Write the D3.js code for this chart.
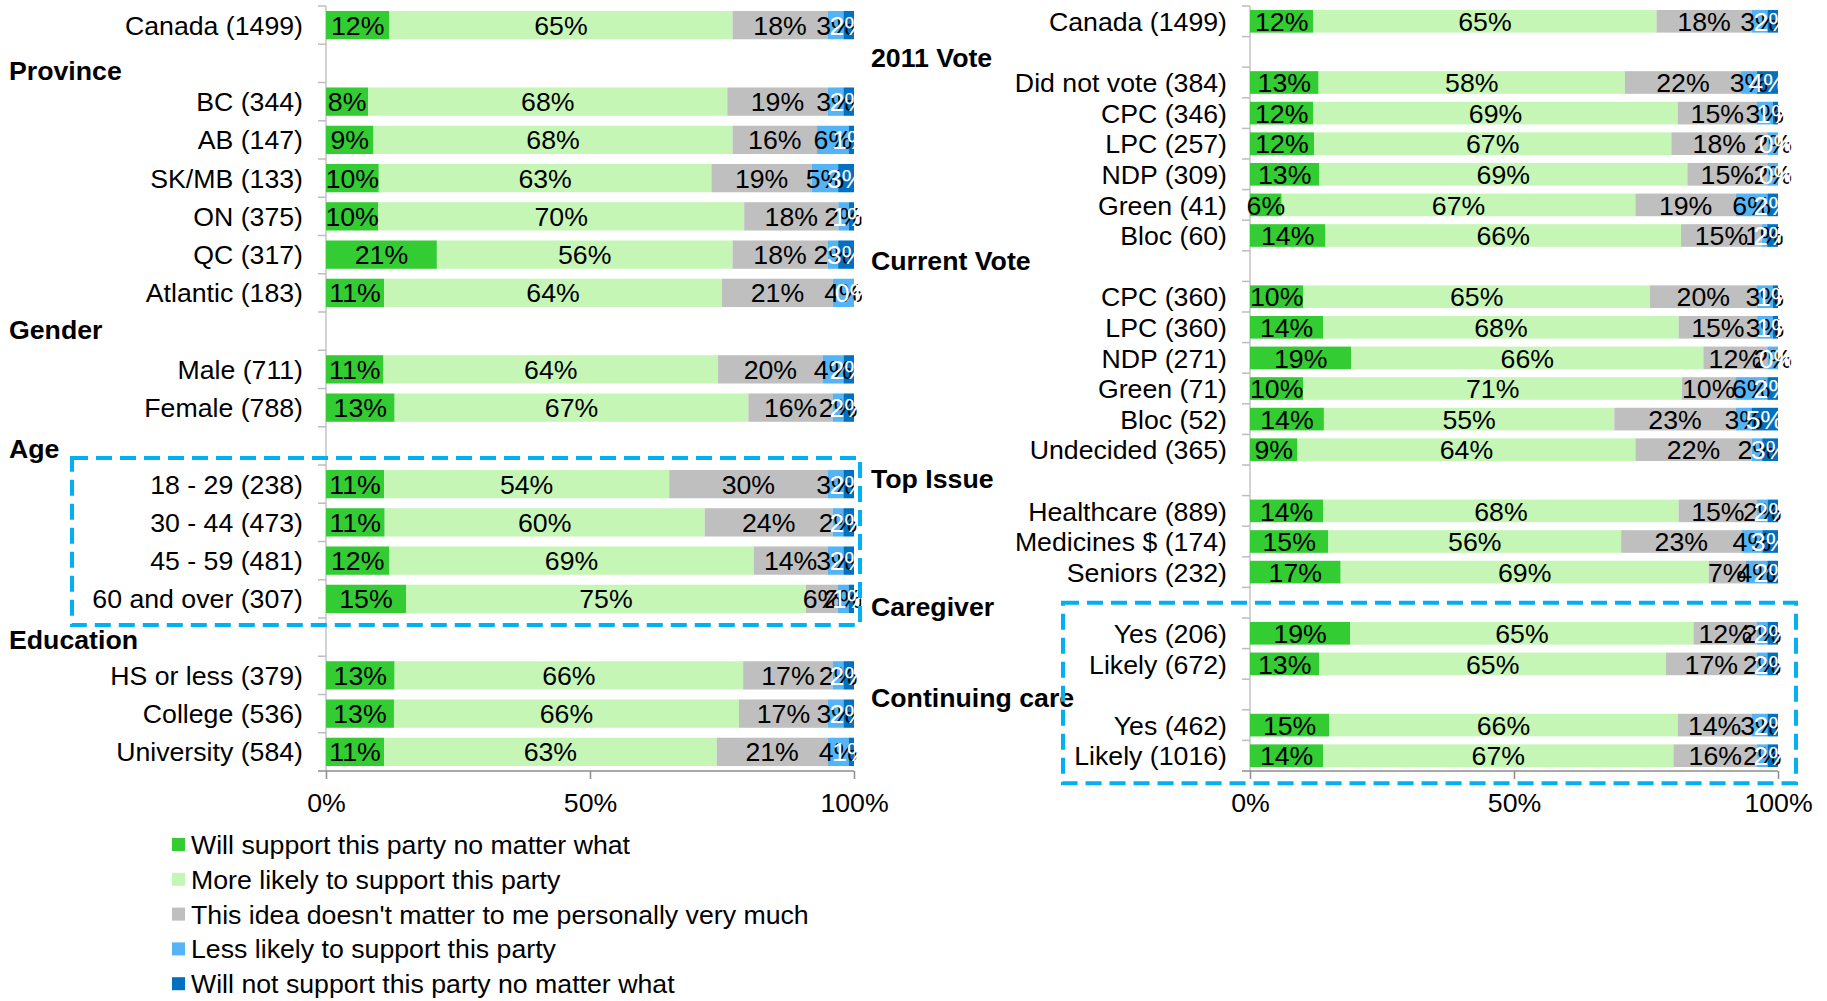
<!DOCTYPE html>
<html>
<head>
<meta charset="utf-8">
<script src="https://cdn.jsdelivr.net/npm/d3@7"></script>
<style>
  body { margin: 0; background: #fff; }
  svg { display: block; font-family: "Liberation Sans", Arial, sans-serif; }
  .catLabel { font-size: 26.7px; fill: #000; }
  .header { font-size: 26.7px; font-weight: bold; fill: #000; }
  .segLabel { font-size: 26.7px; }
  .legendText { font-size: 26.7px; fill: #000; }
</style>
</head>
<body>
<div id="chartDiv"></div>
<script>
// series (stack order, left to right)
const seriesNames = [
  "Will support this party no matter what",
  "More likely to support this party",
  "This idea doesn't matter to me personally very much",
  "Less likely to support this party",
  "Will not support this party no matter what"
];
const seriesColors = ["#33cc33", "#c6f6b6", "#bfbfbf", "#55b4f6", "#0070c0"];
const labelColors = ["#000", "#000", "#000", "#000", "#fff"];

// left panel: header rows have no values (null)
const leftCategories = [
  "Canada (1499)", "Province", "BC (344)", "AB (147)", "SK/MB (133)", "ON (375)", "QC (317)", "Atlantic (183)",
  "Gender", "Male (711)", "Female (788)",
  "Age", "18 - 29 (238)", "30 - 44 (473)", "45 - 59 (481)", "60 and over (307)",
  "Education", "HS or less (379)", "College (536)", "University (584)"
];
const leftHeaders = ["Province", "Gender", "Age", "Education"];
const leftValues = [
  [12, 65, 18, 3, 2], null,
  [8, 68, 19, 3, 2], [9, 68, 16, 6, 1], [10, 63, 19, 5, 3], [10, 70, 18, 2, 1], [21, 56, 18, 2, 3], [11, 64, 21, 4, 0],
  null, [11, 64, 20, 4, 2], [13, 67, 16, 2, 2],
  null, [11, 54, 30, 3, 2], [11, 60, 24, 2, 2], [12, 69, 14, 3, 2], [15, 75, 6, 2, 1],
  null, [13, 66, 17, 2, 2], [13, 66, 17, 3, 2], [11, 63, 21, 4, 1]
];
const leftBoxRows = ["18 - 29 (238)", "60 and over (307)"];

// right panel
const rightCategories = [
  "Canada (1499)", "2011 Vote",
  "Did not vote (384)", "CPC (346)", "LPC (257)", "NDP (309)", "Green (41)", "Bloc (60)",
  "Current Vote",
  "CPC (360)", "LPC (360)", "NDP (271)", "Green (71)", "Bloc (52)", "Undecided (365)",
  "Top Issue", "Healthcare (889)", "Medicines $ (174)", "Seniors (232)",
  "Caregiver", "Yes (206)", "Likely (672)",
  "Continuing care", "Yes (462)", "Likely (1016)"
];
const rightHeaders = ["2011 Vote", "Current Vote", "Top Issue", "Caregiver", "Continuing care"];
const rightValues = [
  [12, 65, 18, 3, 2], null,
  [13, 58, 22, 3, 4], [12, 69, 15, 3, 1], [12, 67, 18, 2, 0], [13, 69, 15, 2, 0], [6, 67, 19, 6, 2], [14, 66, 15, 1, 2],
  null,
  [10, 65, 20, 3, 1], [14, 68, 15, 3, 1], [19, 66, 12, 2, 0], [10, 71, 10, 6, 2], [14, 55, 23, 3, 5], [9, 64, 22, 2, 3],
  null, [14, 68, 15, 2, 2], [15, 56, 23, 4, 3], [17, 69, 7, 4, 2],
  null, [19, 65, 12, 2, 2], [13, 65, 17, 2, 2],
  null, [15, 66, 14, 3, 2], [14, 67, 16, 2, 2]
];
const rightBoxRows = ["Yes (206)", "Likely (1016)"];

const axisTicks = [0, 0.5, 1];

const width = 1827, height = 1001;
const svgObj = d3.select('#chartDiv').append('svg')
  .attr('width', width)
  .attr('height', height);

function buildPanel(cfg){
  const g = svgObj.append('g');

  const x = d3.scaleLinear().domain([0, 1]).range([cfg.x0, cfg.x1]);
  const y = d3.scaleBand().domain(cfg.categories).range([6, 771])
    .paddingInner(0.26).paddingOuter(0.13);
  const step = y.step();
  const yMid = d => y(d) + y.bandwidth() / 2;

  const rows = cfg.categories
    .map((c, i) => ({ cat: c, v: cfg.values[i] }))
    .filter(d => d.v);

  // 100% stacked
  const stack = d3.stack()
    .keys(d3.range(seriesNames.length))
    .value((d, k) => d.v[k] / d3.sum(d.v));
  const layers = stack(rows);

  // y axis line + ticks between categories
  g.append('line')
    .attr('x1', x(0)).attr('x2', x(0))
    .attr('y1', y.range()[0]).attr('y2', y.range()[1])
    .attr('stroke', '#c4c4c4').attr('stroke-width', 1.5);
  g.selectAll('.yTick')
    .data(d3.range(cfg.categories.length))
    .enter().append('line')
    .attr('class', 'yTick')
    .attr('x1', x(0) - 8).attr('x2', x(0))
    .attr('y1', i => y.range()[0] + i * step)
    .attr('y2', i => y.range()[0] + i * step)
    .attr('stroke', '#bdbdbd').attr('stroke-width', 1.5);

  // bars
  g.selectAll('.layer')
    .data(layers)
    .enter().append('g')
    .attr('class', 'layer')
    .attr('fill', d => seriesColors[d.key])
    .selectAll('rect')
    .data(d => d)
    .enter().append('rect')
    .attr('x', d => x(d[0]))
    .attr('width', d => x(d[1]) - x(d[0]))
    .attr('y', d => y(d.data.cat))
    .attr('height', y.bandwidth());

  // segment labels (drawn after all bars so they overlap like the original)
  layers.forEach(layer => {
    g.selectAll(null)
      .data(layer)
      .enter().append('text')
      .attr('class', 'segLabel')
      .attr('x', d => x((d[0] + d[1]) / 2))
      .attr('y', d => yMid(d.data.cat))
      .attr('dy', '.36em')
      .attr('text-anchor', 'middle')
      .attr('fill', labelColors[layer.key])
      .text(d => d.data.v[layer.key] + '%');
  });

  // x axis
  const xAxis = d3.axisBottom(x)
    .tickValues(axisTicks)
    .tickFormat(d3.format('.0%'))
    .tickSize(8)
    .tickSizeOuter(0)
    .tickPadding(14);
  const ax = g.append('g')
    .attr('transform', `translate(0,${y.range()[1]})`)
    .call(xAxis);
  ax.select('.domain').attr('stroke', '#8c8c8c').attr('stroke-width', 1.5)
    .attr('d', `M${x(0) - 8},0H${x(1)}`);
  ax.selectAll('.tick line').attr('stroke', '#8c8c8c').attr('stroke-width', 1.5);
  ax.selectAll('.tick text')
    .attr('font-size', 26.7)
    .attr('font-family', '"Liberation Sans", Arial, sans-serif')
    .attr('fill', '#000');

  // category labels
  g.selectAll('.catLabel')
    .data(rows)
    .enter().append('text')
    .attr('class', 'catLabel')
    .attr('x', x(0) - 23)
    .attr('y', d => yMid(d.cat))
    .attr('dy', '.36em')
    .attr('text-anchor', 'end')
    .text(d => d.cat);

  // group headers (small nudges so they sit like the original)
  g.selectAll('.header')
    .data(cfg.headers)
    .enter().append('text')
    .attr('class', 'header')
    .attr('x', cfg.headerX)
    .attr('y', (d, i) => yMid(d) + cfg.headerNudge[i])
    .attr('dy', '.36em')
    .text(d => d);

  // dashed highlight box
  const [b0, b1] = cfg.boxRows;
  g.append('rect')
    .attr('x', cfg.boxX[0])
    .attr('y', yMid(b0) - step * cfg.boxPad[0])
    .attr('width', cfg.boxX[1] - cfg.boxX[0])
    .attr('height', yMid(b1) - yMid(b0) + step * (cfg.boxPad[0] + cfg.boxPad[1]))
    .attr('fill', 'none')
    .attr('stroke', '#00b0f0')
    .attr('stroke-width', 4)
    .attr('stroke-dasharray', '16,8');
}

buildPanel({
  categories: leftCategories, values: leftValues, headers: leftHeaders,
  x0: 326, x1: 854, headerX: 9, headerNudge: [7, -2, 3, 2],
  boxRows: leftBoxRows, boxX: [72, 860], boxPad: [0.68, 0.68]
});

buildPanel({
  categories: rightCategories, values: rightValues, headers: rightHeaders,
  x0: 1250, x1: 1778, headerX: 871, headerNudge: [5, -6, -2, 4, 3],
  boxRows: rightBoxRows, boxX: [1063, 1796], boxPad: [1.0, 0.9]
});

// legend
const legend = svgObj.append('g').attr('transform', 'translate(172,845)');
const items = legend.selectAll('.legendItem')
  .data(seriesNames)
  .enter().append('g')
  .attr('class', 'legendItem')
  .attr('transform', (d, i) => `translate(0,${i * 34.8})`);
items.append('rect')
  .attr('x', 0).attr('y', -7)
  .attr('width', 13).attr('height', 13)
  .attr('fill', (d, i) => seriesColors[i]);
items.append('text')
  .attr('class', 'legendText')
  .attr('x', 19)
  .attr('dy', '.34em')
  .text(d => d);
</script>
</body>
</html>
